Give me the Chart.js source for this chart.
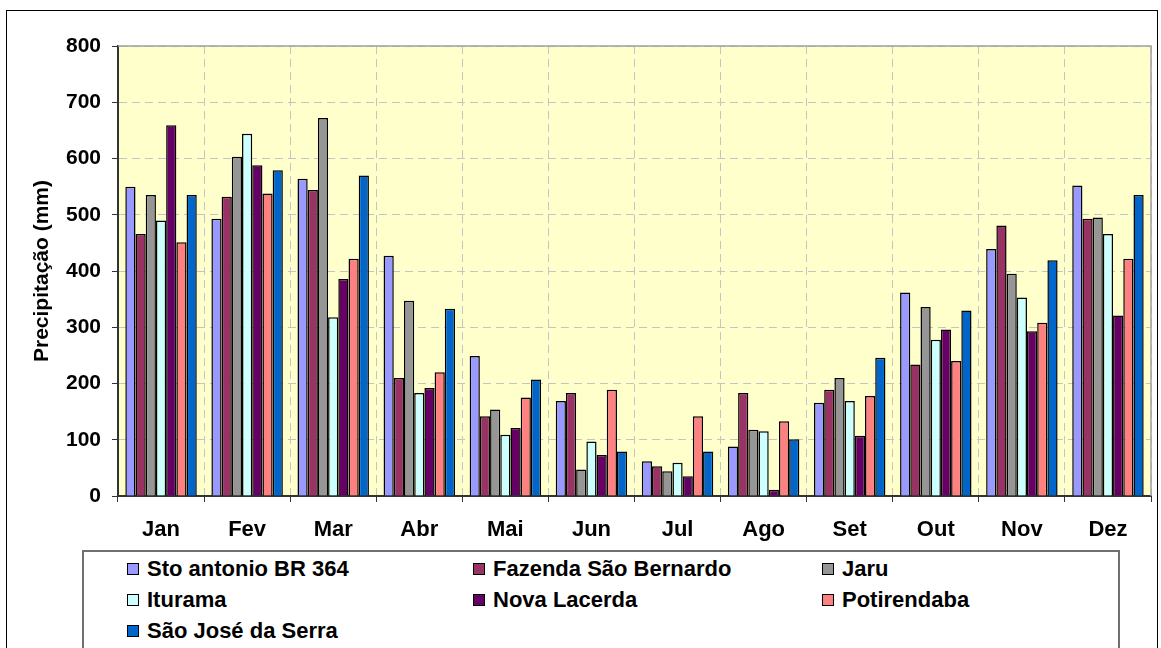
<!DOCTYPE html>
<html>
<head>
<meta charset="utf-8">
<script src="https://cdn.jsdelivr.net/npm/chart.js@4/dist/chart.umd.min.js"></script>
<style>
  body { margin: 0; background: #fff; font-family: "Liberation Sans", Arial, sans-serif; }
  #wrap { position: relative; width: 1161px; height: 648px; overflow: hidden; }
  #frame { position: absolute; left: 6px; top: 10px; width: 1152px; height: 700px; border: 1px solid #000; box-sizing: border-box; }
  #chartBox { position: absolute; left: 0; top: 0; width: 1161px; height: 548px; }
  #legend { position: absolute; left: 82px; top: 550px; width: 1038px; height: 140px; border: 2px solid #707070; box-sizing: border-box; background: #fff; }
  .item { position: absolute; font-weight: bold; font-size: 22px; color: #000; white-space: nowrap; line-height: 26px; }
  .item span { display: inline-block; width: 10px; height: 10px; border: 1px solid #000; margin-right: 8px; vertical-align: 1px; }
</style>
</head>
<body>
<div id="wrap">
  <div id="frame"></div>
  <div id="chartBox"><canvas id="precipChart"></canvas></div>
  <div id="legend"></div>
</div>
<script>
const meses = ["Jan", "Fev", "Mar", "Abr", "Mai", "Jun", "Jul", "Ago", "Set", "Out", "Nov", "Dez"];

const stoAntonio   = [550, 493, 564, 427, 249, 169, 62, 88, 166, 362, 439, 552];
const fazendaSaoB  = [466, 532, 544, 210, 142, 183, 53, 183, 189, 234, 481, 493];
const jaru         = [535, 603, 672, 347, 154, 47, 44, 118, 210, 336, 395, 495];
const iturama      = [490, 644, 318, 183, 109, 97, 59, 115, 169, 278, 353, 466];
const novaLacerda  = [659, 588, 386, 192, 121, 73, 35, 11, 107, 296, 293, 321];
const potirendaba  = [451, 538, 422, 220, 175, 189, 142, 133, 178, 240, 308, 422];
const saoJose      = [535, 579, 570, 333, 207, 79, 79, 101, 246, 330, 419, 535];

const yTicks = [0, 100, 200, 300, 400, 500, 600, 700, 800];

const series = [
    { label: "Sto antonio BR 364",    data: stoAntonio,  cor: "#9999FF" },
    { label: "Fazenda São Bernardo",  data: fazendaSaoB, cor: "#993366" },
    { label: "Jaru",                  data: jaru,        cor: "#969696" },
    { label: "Iturama",               data: iturama,     cor: "#CCFFFF" },
    { label: "Nova Lacerda",          data: novaLacerda, cor: "#660066" },
    { label: "Potirendaba",           data: potirendaba, cor: "#FF8080" },
    { label: "São José da Serra",     data: saoJose,     cor: "#0066CC" }
];

// fundo amarelo da area do grafico + borda cinza em cima / direita
const plotBg = {
    id: "plotBg",
    beforeDraw(chart) {
        const a = chart.chartArea;
        const ctx = chart.ctx;
        ctx.save();
        ctx.fillStyle = "#FFFFCC";
        ctx.fillRect(a.left, a.top, a.right - a.left, a.bottom - a.top);
        ctx.restore();
    },
    afterDraw(chart) {
        const a = chart.chartArea;
        const ctx = chart.ctx;
        ctx.save();
        ctx.strokeStyle = "#a0a0a0";
        ctx.lineWidth = 1.5;
        ctx.beginPath();
        ctx.moveTo(a.left, a.top);
        ctx.lineTo(a.right, a.top);
        ctx.lineTo(a.right, a.bottom);
        ctx.stroke();
        ctx.restore();
    }
};

const fonte = "'Liberation Sans', Arial, sans-serif";

new Chart(document.getElementById("precipChart"), {
    type: "bar",
    data: {
        labels: meses,
        datasets: series.map(s => ({
            label: s.label,
            data: s.data,
            backgroundColor: s.cor,
            borderColor: "#000",
            borderWidth: 1.5,
            categoryPercentage: 0.83,
            barPercentage: 1.0
        }))
    },
    options: {
        responsive: true,
        maintainAspectRatio: false,
        animation: false,
        layout: { padding: { left: 0, top: 46, right: 10, bottom: 0 } },
        plugins: {
            legend: { display: false },
            tooltip: { enabled: false }
        },
        scales: {
            x: {
                grid: {
                    offset: true,
                    color: "#c4c4c4",
                    tickBorderDash: [],
                    tickColor: "#333",
                    tickLength: 6
                },
                border: { color: "#333", width: 2, dash: [8, 5] },
                ticks: {
                    color: "#000",
                    padding: 15,
                    font: { family: fonte, size: 22, weight: "bold" }
                },
                afterFit(scale) { scale.height = 52; }
            },
            y: {
                min: 0,
                max: 800,
                afterBuildTicks(scale) { scale.ticks = yTicks.map(v => ({ value: v })); },
                grid: {
                    color: "#c4c4c4",
                    tickBorderDash: [],
                    tickColor: "#333",
                    tickLength: 6
                },
                border: { color: "#333", width: 2, dash: [8, 5] },
                ticks: {
                    color: "#000",
                    padding: 11,
                    font: { family: fonte, size: 21, weight: "bold" }
                },
                title: {
                    display: true,
                    text: "Precipitação (mm)",
                    color: "#000",
                    padding: { top: 30, bottom: 0 },
                    font: { family: fonte, size: 21, weight: "bold" }
                },
                afterFit(scale) { scale.width = 118; }
            }
        }
    },
    plugins: [plotBg]
});

// legenda em 3 colunas, como no original
const legenda = document.getElementById("legend");
const colX = [43, 389, 738];
const rowY = [4, 35, 66];
series.forEach((s, i) => {
    const d = document.createElement("div");
    d.className = "item";
    d.style.left = colX[i % 3] + "px";
    d.style.top = rowY[Math.floor(i / 3)] + "px";
    d.innerHTML = '<span style="background:' + s.cor + '"></span>' + s.label;
    legenda.appendChild(d);
});
</script>
</body>
</html>
